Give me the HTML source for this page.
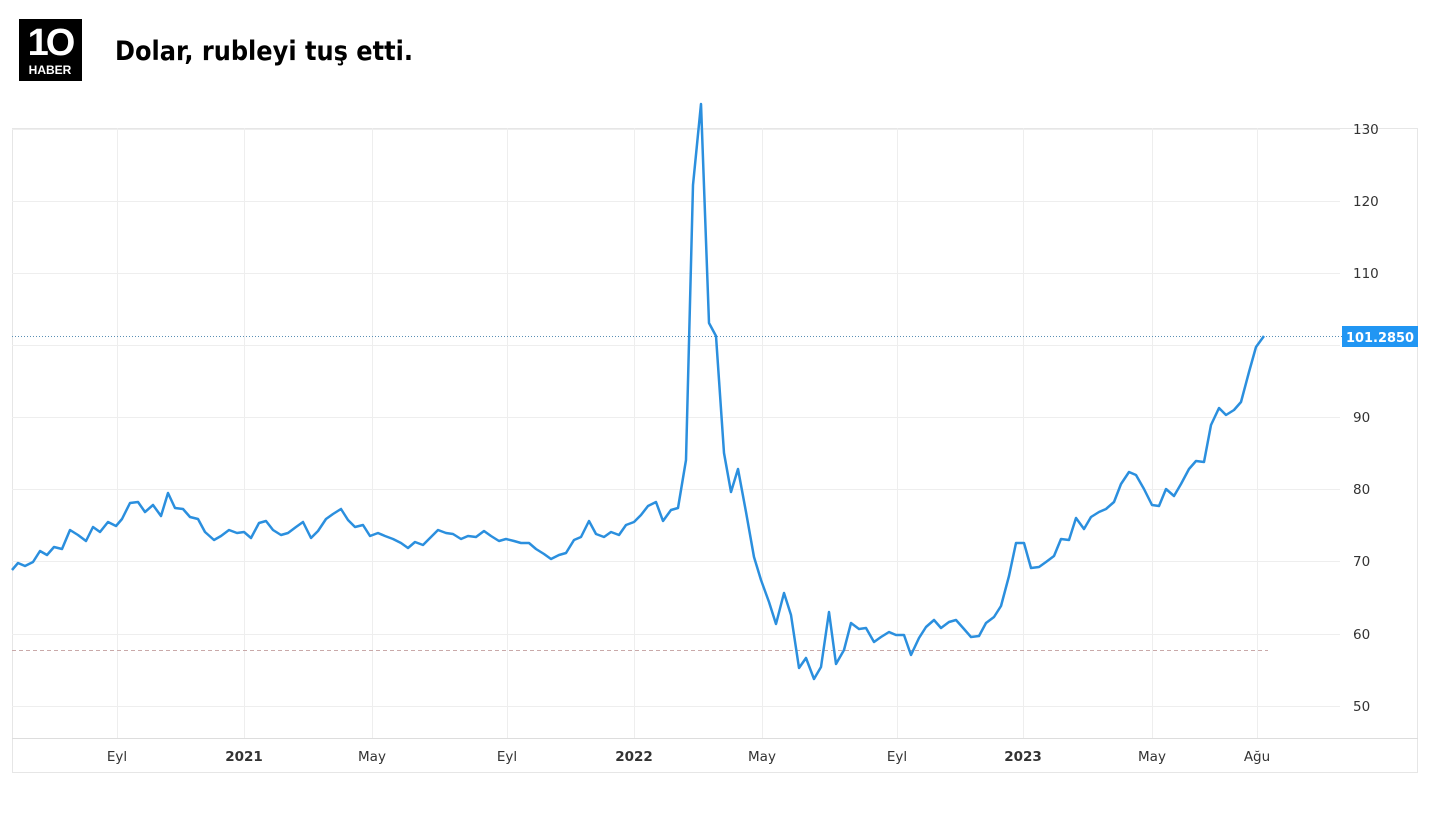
<!DOCTYPE html>
<html><head><meta charset="utf-8"><style>
body{margin:0;background:#fff;width:1438px;height:817px;overflow:hidden;font-family:"Liberation Sans","DejaVu Sans",sans-serif}
</style></head><body>
<svg width="1438" height="817" viewBox="0 0 1438 817" xmlns="http://www.w3.org/2000/svg" style="position:absolute;left:0;top:0">
<rect x="19" y="19" width="63" height="62" fill="#000"/>
<text x="50" y="55" fill="#fff" font-size="38" font-weight="bold" text-anchor="middle" font-family="Liberation Sans,sans-serif" letter-spacing="-3">1O</text>
<text x="50" y="74" fill="#fff" font-size="12" font-weight="bold" text-anchor="middle" font-family="Liberation Sans,sans-serif">HABER</text>
<text x="115" y="60" fill="#000" font-size="27" font-weight="bold" font-family="DejaVu Sans,Liberation Sans,sans-serif" textLength="298" lengthAdjust="spacingAndGlyphs">Dolar, rubleyi tuş etti.</text>
<rect x="12.5" y="128.5" width="1405" height="644" fill="none" stroke="#e6e6e6"/>
<g stroke="#eeeeee" stroke-width="1">
<line x1="12" x2="1340" y1="129.5" y2="129.5"/><line x1="12" x2="1340" y1="201.5" y2="201.5"/><line x1="12" x2="1340" y1="273.5" y2="273.5"/><line x1="12" x2="1340" y1="345.5" y2="345.5"/><line x1="12" x2="1340" y1="417.5" y2="417.5"/><line x1="12" x2="1340" y1="489.5" y2="489.5"/><line x1="12" x2="1340" y1="561.5" y2="561.5"/><line x1="12" x2="1340" y1="634.5" y2="634.5"/><line x1="12" x2="1340" y1="706.5" y2="706.5"/>
<line x1="117.5" x2="117.5" y1="128" y2="738"/><line x1="244.5" x2="244.5" y1="128" y2="738"/><line x1="372.5" x2="372.5" y1="128" y2="738"/><line x1="507.5" x2="507.5" y1="128" y2="738"/><line x1="634.5" x2="634.5" y1="128" y2="738"/><line x1="762.5" x2="762.5" y1="128" y2="738"/><line x1="897.5" x2="897.5" y1="128" y2="738"/><line x1="1023.5" x2="1023.5" y1="128" y2="738"/><line x1="1152.5" x2="1152.5" y1="128" y2="738"/><line x1="1257.5" x2="1257.5" y1="128" y2="738"/>
</g>
<line x1="12" x2="1418" y1="738.5" y2="738.5" stroke="#dddddd"/>
<line x1="12" x2="1268" y1="650.5" y2="650.5" stroke="#c9a9a9" stroke-dasharray="4,3"/>
<line x1="12" x2="1342" y1="336.5" y2="336.5" stroke="#5a8fb5" stroke-dasharray="1,2"/>
<polyline fill="none" stroke="#2b8fde" stroke-width="2.5" stroke-linejoin="round" points="12,570 18,563 25,566 33,562 40,551 47,555 54,547 62,549 70,530 78,535 86,541 93,527 100,532 108,522 116,526 122,519 130,503 138,502 145,512 153,505 161,516 168,493 175,508 183,509 190,517 198,519 205,532 214,540 221,536 229,530 237,533 244,532 251,538 259,523 266,521 273,530 281,535 288,533 296,527 303,522 311,538 318,531 326,519 333,514 341,509 348,520 355,527 363,525 370,536 378,533 385,536 393,539 401,543 408,548 415,542 423,545 430,538 438,530 446,533 453,534 461,539 468,536 476,537 484,531 491,536 499,541 506,539 514,541 521,543 529,543 536,549 544,554 551,559 559,555 566,553 574,540 581,537 589,521 596,534 604,537 611,532 619,535 626,525 634,522 641,515 648,506 656,502 663,521 671,510 678,508 686,460 693,185 701,104 709,323 716,336 724,453 731,492 738,469 746,512 754,557 761,580 769,602 776,624 784,593 791,615 799,668 806,658 814,679 821,667 829,612 836,664 844,650 851,623 859,629 866,628 874,642 881,637 889,632 896,635 904,635 911,655 919,638 926,627 934,620 941,628 949,622 956,620 964,629 971,637 979,636 986,623 994,617 1001,606 1009,576 1016,543 1024,543 1031,568 1039,567 1046,562 1054,556 1061,539 1069,540 1076,518 1084,529 1091,517 1099,512 1106,509 1114,502 1121,484 1129,472 1136,475 1144,489 1152,505 1159,506 1166,489 1174,496 1181,484 1189,469 1196,461 1204,462 1211,425 1219,408 1226,415 1234,410 1241,402 1249,372 1256,347 1264,336"/>
<g font-size="13.5" fill="#333" font-family="DejaVu Sans,sans-serif">
<text x="1353" y="134">130</text><text x="1353" y="206">120</text><text x="1353" y="278">110</text><text x="1353" y="422">90</text><text x="1353" y="494">80</text><text x="1353" y="566">70</text><text x="1353" y="639">60</text><text x="1353" y="711">50</text>
</g>
<rect x="1342" y="326" width="76" height="21" fill="#2196f3"/>
<text x="1380" y="342" font-size="13.5" font-weight="bold" fill="#fff" text-anchor="middle" font-family="DejaVu Sans,sans-serif" textLength="68" lengthAdjust="spacingAndGlyphs">101.2850</text>
<g font-size="13.5" fill="#333" text-anchor="middle" font-family="DejaVu Sans,sans-serif">
<text x="117" y="761">Eyl</text><text x="244" y="761" font-weight="bold">2021</text><text x="372" y="761">May</text><text x="507" y="761">Eyl</text><text x="634" y="761" font-weight="bold">2022</text><text x="762" y="761">May</text><text x="897" y="761">Eyl</text><text x="1023" y="761" font-weight="bold">2023</text><text x="1152" y="761">May</text><text x="1257" y="761">Ağu</text>
</g>
</svg>
</body></html>
